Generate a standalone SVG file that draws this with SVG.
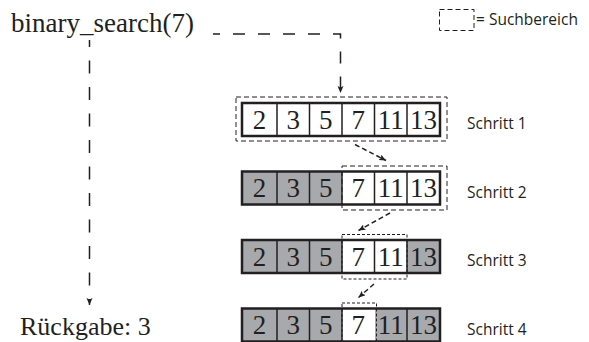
<svg xmlns="http://www.w3.org/2000/svg" width="589" height="342" viewBox="0 0 589 342">
  <style>
    .serif { font-family: "Liberation Serif", "Times New Roman", serif; fill: #231f20; }
    .sans { font-family: "Open Sans", "Liberation Sans", sans-serif; fill: #231f20; }
    .num { font-family: "Liberation Serif", "Times New Roman", serif; font-size: 27px; fill: #231f20; text-anchor: middle; }
    .frame { fill: none; stroke: #231f20; stroke-width: 2.5; }
    .div { stroke: #231f20; stroke-width: 1.5; }
    .on { fill: #ffffff; }
    .off { fill: #a7a9ac; }
    .range { fill: none; stroke: #231f20; stroke-width: 1; stroke-dasharray: 5 3; }
    .range-fine { fill: none; stroke: #231f20; stroke-width: 1; stroke-dasharray: 3 2; }
    .flow { fill: none; stroke: #231f20; stroke-width: 1.5; }
    .step { fill: none; stroke: #231f20; stroke-width: 1.5; stroke-dasharray: 5 3; }
  </style>
  <defs>
    <marker id="head" markerUnits="userSpaceOnUse" markerWidth="8" markerHeight="8" refX="7" refY="3" orient="auto">
      <path d="M0,0 L7,3 L0,6 L1.5,3 z" fill="#231f20"/>
    </marker>
  </defs>

  <rect width="589" height="342" fill="#ffffff"/>

  <!-- legend -->
  <g id="legend">
    <rect x="439.5" y="9.5" width="34.5" height="21" class="range"/>
    <text x="476" y="25" class="sans" font-size="15.5">= Suchbereich</text>
  </g>

  <!-- call and result -->
  <g id="call">
    <text x="11" y="32" class="serif" font-size="27">binary_search(7)</text>
  </g>
  <g id="result">
    <text x="20" y="335" class="serif" font-size="26">Rückgabe: 3</text>
  </g>

  <!-- step 1: whole array searched -->
  <g id="step1">
    <rect x="242" y="103" width="198" height="33" class="on"/>
    <line x1="277" y1="103" x2="277" y2="136" class="div"/>
    <line x1="309.5" y1="103" x2="309.5" y2="136" class="div"/>
    <line x1="342" y1="103" x2="342" y2="136" class="div"/>
    <line x1="374.5" y1="103" x2="374.5" y2="136" class="div"/>
    <line x1="407" y1="103" x2="407" y2="136" class="div"/>
    <rect x="242" y="103" width="198" height="33" class="frame"/>
    <text x="259.5" y="128.5" class="num">2</text>
    <text x="293.2" y="128.5" class="num">3</text>
    <text x="325.7" y="128.5" class="num">5</text>
    <text x="358.2" y="128.5" class="num">7</text>
    <text x="390.7" y="128.5" class="num">11</text>
    <text x="423.5" y="128.5" class="num">13</text>
    <rect x="236" y="97" width="211" height="44" class="range"/>
    <text x="467" y="129" class="sans" font-size="15.5">Schritt 1</text>
  </g>

  <!-- step 2: right half -->
  <g id="step2">
    <rect x="242" y="171.5" width="100" height="33" class="off"/>
    <rect x="342" y="171.5" width="98" height="33" class="on"/>
    <line x1="277" y1="171.5" x2="277" y2="204.5" class="div"/>
    <line x1="309.5" y1="171.5" x2="309.5" y2="204.5" class="div"/>
    <line x1="342" y1="171.5" x2="342" y2="204.5" class="div"/>
    <line x1="374.5" y1="171.5" x2="374.5" y2="204.5" class="div"/>
    <line x1="407" y1="171.5" x2="407" y2="204.5" class="div"/>
    <rect x="242" y="171.5" width="198" height="33" class="frame"/>
    <text x="259.5" y="197" class="num">2</text>
    <text x="293.2" y="197" class="num">3</text>
    <text x="325.7" y="197" class="num">5</text>
    <text x="358.2" y="197" class="num">7</text>
    <text x="390.7" y="197" class="num">11</text>
    <text x="423.5" y="197" class="num">13</text>
    <rect x="342" y="166" width="105" height="44" class="range"/>
    <text x="467" y="197.5" class="sans" font-size="15.5">Schritt 2</text>
  </g>

  <!-- step 3: 7 and 11 -->
  <g id="step3">
    <rect x="242" y="240" width="100" height="33" class="off"/>
    <rect x="342" y="240" width="65" height="33" class="on"/>
    <rect x="407" y="240" width="33" height="33" class="off"/>
    <line x1="277" y1="240" x2="277" y2="273" class="div"/>
    <line x1="309.5" y1="240" x2="309.5" y2="273" class="div"/>
    <line x1="342" y1="240" x2="342" y2="273" class="div"/>
    <line x1="374.5" y1="240" x2="374.5" y2="273" class="div"/>
    <line x1="407" y1="240" x2="407" y2="273" class="div"/>
    <rect x="242" y="240" width="198" height="33" class="frame"/>
    <text x="259.5" y="265.5" class="num">2</text>
    <text x="293.2" y="265.5" class="num">3</text>
    <text x="325.7" y="265.5" class="num">5</text>
    <text x="358.2" y="265.5" class="num">7</text>
    <text x="390.7" y="265.5" class="num">11</text>
    <text x="423.5" y="265.5" class="num">13</text>
    <rect x="342" y="234.5" width="65" height="44.5" class="range-fine"/>
    <text x="467" y="266" class="sans" font-size="15.5">Schritt 3</text>
  </g>

  <!-- step 4: only 7 left -->
  <g id="step4">
    <rect x="242" y="308.5" width="100" height="33" class="off"/>
    <rect x="342" y="308.5" width="33" height="33" class="on"/>
    <rect x="375" y="308.5" width="65" height="33" class="off"/>
    <line x1="277" y1="308.5" x2="277" y2="341.5" class="div"/>
    <line x1="309.5" y1="308.5" x2="309.5" y2="341.5" class="div"/>
    <line x1="342" y1="308.5" x2="342" y2="341.5" class="div"/>
    <line x1="407" y1="308.5" x2="407" y2="341.5" class="div"/>
    <rect x="242" y="308.5" width="198" height="33" class="frame"/>
    <text x="259.5" y="334" class="num">2</text>
    <text x="293.2" y="334" class="num">3</text>
    <text x="325.7" y="334" class="num">5</text>
    <text x="358.2" y="334" class="num">7</text>
    <text x="390.7" y="334" class="num">11</text>
    <text x="423.5" y="334" class="num">13</text>
    <rect x="342" y="303" width="34.5" height="40" class="range-fine"/>
    <text x="467" y="334.5" class="sans" font-size="15.5">Schritt 4</text>
  </g>

  <!-- connectors -->
  <g id="connectors">
    <path d="M213,34 H340.5 V93" class="flow" stroke-dasharray="12 13" stroke-dashoffset="5" marker-end="url(#head)"/>
    <path d="M89.5,40 V305" class="flow" stroke-dasharray="13 13.5" stroke-dashoffset="6" marker-end="url(#head)"/>
    <path d="M355,144.5 L386,160.5" class="step" marker-end="url(#head)"/>
    <path d="M390,213 L358.5,230.5" class="step" marker-end="url(#head)"/>
    <path d="M374,284 L358.5,297.5" class="step" marker-end="url(#head)"/>
  </g>
</svg>
